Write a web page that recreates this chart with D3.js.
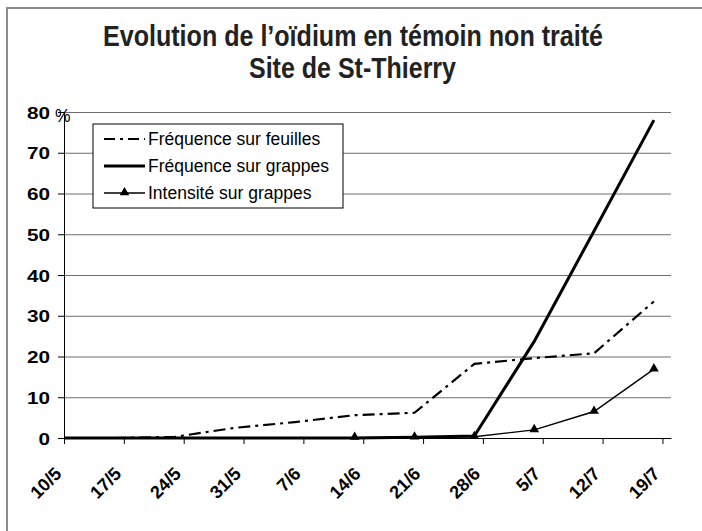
<!DOCTYPE html>
<html>
<head>
<meta charset="utf-8">
<script src="https://cdn.jsdelivr.net/npm/d3@7"></script>
<style>
	body { margin: 0; background: #fff; }
	svg { display: block; }
	text { font-family: Arial, "Liberation Sans", sans-serif; fill: #000; }
	.title { font-weight: bold; font-size: 30px; fill: #222; }
	.tick-lbl { font-weight: bold; font-size: 17px; }
	.legend-lbl { font-size: 17.5px; }
</style>
</head>
<body>
<div id="chart"></div>
<script>
const parseDay = d3.timeParse("%d/%m");

// week labels on the x axis
const tickLabels = ["10/5", "17/5", "24/5", "31/5", "7/6", "14/6", "21/6", "28/6", "5/7", "12/7", "19/7"];
const yTicks = [0, 10, 20, 30, 40, 50, 60, 70, 80];

// observation dates
const datesAll = ["10/5", "16/5", "23/5", "30/5", "6/6", "13/6", "20/6", "27/6", "4/7", "11/7", "18/7"];
const datesInt = ["13/6", "20/6", "27/6", "4/7", "11/7", "18/7"];

// series values (%)
const freqFeuilles = [0, 0, 0.3, 2.5, 3.9, 5.6, 6.2, 18.2, 19.6, 20.8, 33.5];
const freqGrappes  = [0, 0, 0, 0, 0, 0, 0.2, 0.5, 23.7, 50.8, 78];
const intGrappes   = [0.1, 0.2, 0.3, 2, 6.5, 16.9];

const legendNames = ["Fréquence sur feuilles", "Fréquence sur grappes", "Intensité sur grappes"];

const W = 702, H = 531;
const margin = {top: 112, left: 64, right: 31, bottom: 93};
const width = W - margin.left - margin.right;
const height = H - margin.top - margin.bottom;

const svg = d3.select("#chart").append("svg")
	.attr("width", W)
	.attr("height", H);

// outer frame
svg.append("rect")
	.attr("x", 7).attr("y", 8)
	.attr("width", W + 10).attr("height", H + 10)
	.attr("fill", "none")
	.attr("stroke", "#8c8c8c")
	.attr("stroke-width", 2);

// title (narrow bold face, squeezed to the original width)
svg.append("text").attr("class", "title")
	.attr("x", 103).attr("y", 46)
	.attr("textLength", 500).attr("lengthAdjust", "spacingAndGlyphs")
	.text("Evolution de l\u2019oïdium en témoin non traité");
svg.append("text").attr("class", "title")
	.attr("x", 249).attr("y", 78)
	.attr("textLength", 207).attr("lengthAdjust", "spacingAndGlyphs")
	.text("Site de St-Thierry");

const g = svg.append("g")
	.attr("transform", "translate(" + margin.left + "," + margin.top + ")");

const xScale = d3.scaleTime()
	.domain([parseDay("10/5"), parseDay("20/7")])
	.range([0, width]);

const yScale = d3.scaleLinear()
	.domain([0, 80])
	.range([height, 0]);

// grid
g.append("g")
	.attr("class", "grid")
	.call(d3.axisLeft(yScale).tickValues(yTicks).tickSize(-width).tickFormat(""))
	.call(s => s.select(".domain").remove())
	.call(s => s.selectAll("line").attr("stroke", "#6e6e6e"));

// y axis, labels are drawn wide like the original
g.append("g")
	.attr("class", "y axis")
	.call(d3.axisLeft(yScale).tickValues(yTicks).tickSize(6).tickPadding(8))
	.call(s => s.selectAll("text")
		.attr("class", "tick-lbl")
		.attr("dy", "0.36em")
		.attr("textLength", d => String(d).length * 11.5)
		.attr("lengthAdjust", "spacingAndGlyphs"))
	.call(s => s.selectAll("line,path").attr("stroke", "#000"));

// x axis
const xAxis = g.append("g")
	.attr("class", "x axis")
	.attr("transform", "translate(0," + height + ")")
	.call(d3.axisBottom(xScale)
		.tickValues(tickLabels.map(parseDay))
		.tickSize(6)
		.tickSizeOuter(0)
		.tickFormat((d, i) => tickLabels[i]));
xAxis.selectAll("line,path").attr("stroke", "#000");
xAxis.selectAll("text")
	.attr("class", "tick-lbl")
	.style("font-size", "18px")
	.attr("text-anchor", "end")
	.attr("y", 0).attr("dy", 0)
	.attr("transform", "translate(-2,37) rotate(-45)");

// "%" unit
g.append("text")
	.attr("x", -9).attr("y", 10)
	.style("font-size", "17.5px")
	.text("%");

const line = d3.line()
	.x(d => xScale(d.x))
	.y(d => yScale(d.y));

const feuilles = datesAll.map((d, i) => ({x: parseDay(d), y: freqFeuilles[i]}));
const grappes  = datesAll.map((d, i) => ({x: parseDay(d), y: freqGrappes[i]}));
const intens   = datesInt.map((d, i) => ({x: parseDay(d), y: intGrappes[i]}));

g.append("path").datum(intens)
	.attr("fill", "none").attr("stroke", "#000").attr("stroke-width", 1.4)
	.attr("d", line);

const tri = d3.symbol().type(d3.symbolTriangle).size(40);
g.selectAll(".tri").data(intens).enter().append("path")
	.attr("class", "tri")
	.attr("transform", d => "translate(" + xScale(d.x) + "," + (yScale(d.y) - 0.5) + ")")
	.attr("d", tri)
	.attr("fill", "#000");

g.append("path").datum(feuilles)
	.attr("fill", "none").attr("stroke", "#000").attr("stroke-width", 2.2)
	.attr("stroke-dasharray", "12,5,3,5")
	.attr("d", line);

g.append("path").datum(grappes)
	.attr("fill", "none").attr("stroke", "#000").attr("stroke-width", 3)
	.attr("stroke-linejoin", "round")
	.attr("d", line);

// legend
const legend = svg.append("g").attr("transform", "translate(93,124)");
legend.append("rect")
	.attr("x", 0).attr("y", 0).attr("width", 250).attr("height", 84)
	.attr("fill", "#fff").attr("stroke", "#000").attr("stroke-width", 1);

const rowY = [15, 42, 69];
legendNames.forEach((name, i) => {
	const row = legend.append("g").attr("transform", "translate(0," + rowY[i] + ")");
	const sample = row.append("line")
		.attr("x1", 11).attr("x2", 52).attr("y1", 0).attr("y2", 0)
		.attr("stroke", "#000");
	if (i == 0) {
		sample.attr("stroke-width", 2).attr("stroke-dasharray", "11,5,3,5");
	} else if (i == 1) {
		sample.attr("stroke-width", 3);
	} else {
		sample.attr("stroke-width", 1.4);
		row.append("path")
			.attr("transform", "translate(31.5,-0.5)")
			.attr("d", tri).attr("fill", "#000");
	}
	row.append("text").attr("class", "legend-lbl")
		.attr("x", 55).attr("y", 0).attr("dy", "0.36em")
		.text(name);
});
</script>
</body>
</html>
